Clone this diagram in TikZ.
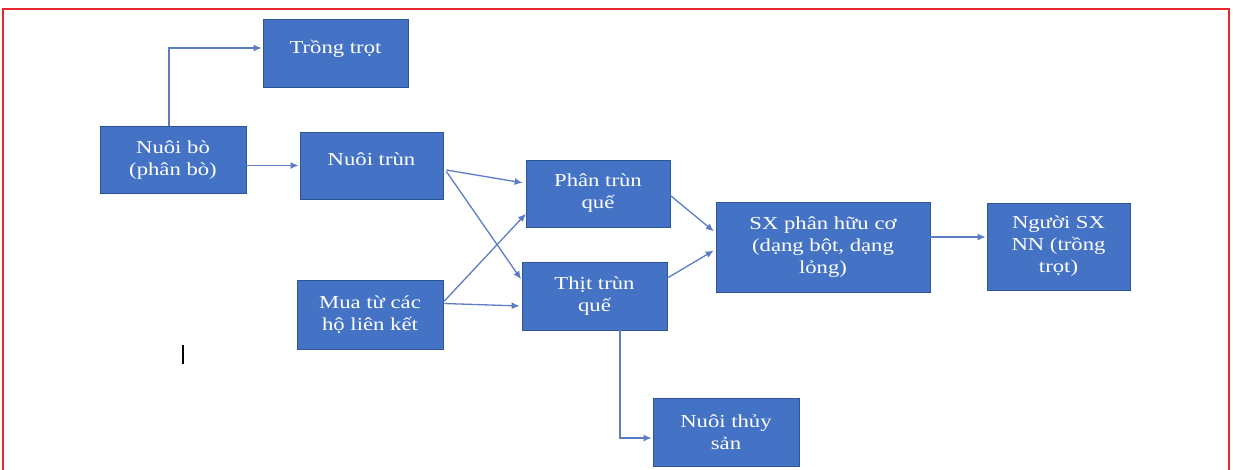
\documentclass[tikz,border=0pt]{standalone}
\usepackage{fontspec}
\setmainfont{Liberation Serif}[FakeStretch=1.24]
\usetikzlibrary{arrows.meta,calc}
\definecolor{boxblue}{HTML}{4472C4}
\definecolor{boxedge}{HTML}{2F5597}
\definecolor{arrblue}{HTML}{5B7DC4}
\definecolor{framered}{HTML}{E8262E}
\tikzset{
  box/.style={draw=boxedge, line width=0.8pt, fill=boxblue, text=white, align=center,
    inner sep=2pt, font=\fontsize{18.3}{22}\selectfont},
  oneline/.style={text depth=12pt},
  conn/.style={draw=arrblue, line width=1.3pt, -{Latex[length=8pt,width=7pt]}, shorten >=1pt},
}
\begin{document}
\begin{tikzpicture}[x=1pt,y=-1pt]
\useasboundingbox (0,0) rectangle (1233,469);
\draw[framered, line width=2.5pt] (3,485) -- (3,9) -- (1229,9) -- (1229,485);
\node[box, oneline, minimum width=145pt, minimum height=68pt] (tt) at (335.5,53) {Trồng trọt};
\node[box, minimum width=146pt, minimum height=67pt] (nb) at (173,160) {Nuôi bò\\(phân bò)};
\node[box, oneline, minimum width=143pt, minimum height=67pt] (nt) at (371.5,165.5) {Nuôi trùn};
\node[box, minimum width=144pt, minimum height=67pt] (pq) at (598,193.5) {Phân trùn\\quế};
\node[box, minimum width=145pt, minimum height=68pt] (tq) at (594.5,296) {Thịt trùn\\quế};
\node[box, minimum width=146pt, minimum height=69pt] (mua) at (370,314.5) {Mua từ các\\hộ liên kết};
\node[box, minimum width=214pt, minimum height=90pt] (sx) at (823,247.5) {SX phân hữu cơ\\(dạng bột, dạng\\lỏng)};
\node[box, minimum width=143pt, minimum height=87pt] (ng) at (1058.5,246.5) {Người SX\\NN (trồng\\trọt)};
\node[box, minimum width=146pt, minimum height=68pt] (ts) at (726,432) {Nuôi thủy\\sản};
\draw[conn] ($(nb.north)+(-4,0)$) |- ($(tt.west)+(0,-5)$);
\draw[conn] (nb.east |- nt.west) -- (nt.west);
\draw[conn] ($(nt.east)+(3,4.5)$) -- ($(pq.west)+(-2,-10.5)$);
\draw[conn] ($(nt.east)+(3,6)$) -- ($(tq.west)+(0,-16)$);
\draw[conn] ($(mua.east)+(1,-13.5)$) -- ($(pq.west)+(1,19.5)$);
\draw[conn] ($(mua.east)+(1,-11)$) -- ($(tq.west)+(-1,10)$);
\draw[conn] ($(pq.east)+(0,2)$) -- ($(sx.west)+(-1,-15.5)$);
\draw[conn] ($(tq.east)+(0,-18)$) -- ($(sx.west)+(-1,2.5)$);
\draw[conn] ($(sx.east)+(0,-10.5)$) -- ($(ng.west)+(0,-9.5)$);
\draw[conn] ($(tq.south)+(25.5,0)$) |- ($(ts.west)+(0,6)$);
\draw[black, line width=2pt] (183,345) -- (183,364);
\end{tikzpicture}
\end{document}
